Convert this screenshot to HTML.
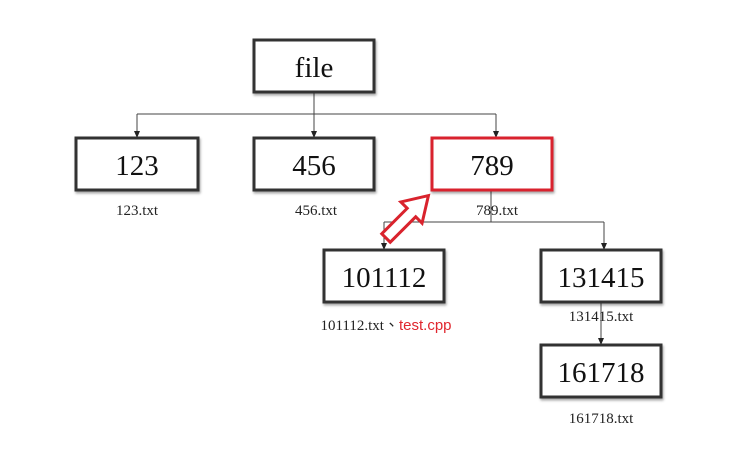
<!DOCTYPE html>
<html><head><style>body{margin:0;background:#fff}svg{display:block}</style></head>
<body>
<svg width="740" height="464" xmlns="http://www.w3.org/2000/svg" font-family="Liberation Serif, serif">
<defs>
<marker id="a" markerWidth="7" markerHeight="6" refX="6" refY="3" orient="auto" markerUnits="userSpaceOnUse"><path d="M0,0 L7,3 L0,6 z" fill="#222"/></marker>
<filter id="s" x="-10%" y="-10%" width="130%" height="140%"><feDropShadow dx="1" dy="2" stdDeviation="1.2" flood-color="#000" flood-opacity="0.35"/></filter>
</defs>
<g stroke="#444" stroke-width="1" fill="none">
<path d="M314,92 V114"/>
<path d="M137,114 H496"/>
<path d="M137,114 V137" marker-end="url(#a)"/>
<path d="M314,114 V137" marker-end="url(#a)"/>
<path d="M496,114 V137" marker-end="url(#a)"/>
<path d="M491,190 V222"/>
<path d="M384,222 H604"/>
<path d="M384,222 V249" marker-end="url(#a)"/>
<path d="M604,222 V249" marker-end="url(#a)"/>
<path d="M601,302 V344" marker-end="url(#a)"/>
</g>
<g fill="#fff" stroke="#333" stroke-width="3" filter="url(#s)">
<rect x="254" y="40" width="120" height="52"/>
<rect x="76" y="138" width="122" height="52"/>
<rect x="254" y="138" width="120" height="52"/>
<rect x="324" y="250" width="120" height="52"/>
<rect x="541" y="250" width="120" height="52"/>
<rect x="541" y="345" width="120" height="52"/>
</g>
<rect x="432" y="138" width="120" height="52" fill="#fff" stroke="#d9232d" stroke-width="3" filter="url(#s)"/>
<g font-size="29" text-anchor="middle" fill="#111">
<text x="314" y="77">file</text>
<text x="137" y="175">123</text>
<text x="314" y="175">456</text>
<text x="492" y="175">789</text>
<text x="384" y="287">101112</text>
<text x="601" y="287">131415</text>
<text x="601" y="382">161718</text>
</g>
<g font-size="15" text-anchor="middle" fill="#222">
<text x="137" y="215">123.txt</text>
<text x="316" y="215">456.txt</text>
<text x="497" y="215">789.txt</text>
<text x="601" y="321">131415.txt</text>
<text x="601" y="423">161718.txt</text>
<text x="386" y="330"><tspan>101112.txt</tspan><tspan font-family="Noto Sans CJK TC, sans-serif">、</tspan><tspan fill="#e0262e" font-family="Liberation Sans, sans-serif">test.cpp</tspan></text>
</g>
<polygon transform="translate(386,238) rotate(-45)" points="0,-6 36,-6 36,-15 60,0 36,15 36,6 0,6" fill="#fff" stroke="#d9232d" stroke-width="3" stroke-linejoin="miter"/>
</svg>
</body></html>
